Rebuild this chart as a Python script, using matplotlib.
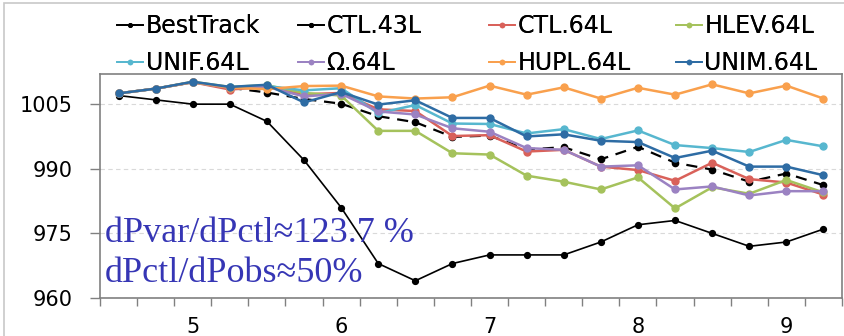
import numpy as np
import matplotlib
matplotlib.use('Agg')
import matplotlib.pyplot as plt
from matplotlib.patches import Rectangle

# 6-hourly points, day labels every 4th point
day_labels = ['5', '6', '7', '8', '9']
day_pos = [2, 6, 10, 14, 18]

best = [1007, 1006, 1005, 1005, 1001, 992, 981, 968, 964, 968,
        970, 970, 970, 973, 977, 978, 975, 972, 973, 976]
ctl43 = [1007.5, 1008.6, 1010.1, 1008.8, 1007.7, 1006.2, 1005.1, 1002.2, 1000.8, 997.4,
         997.7, 994.5, 995.0, 992.2, 995.1, 991.4, 989.8, 987.0, 988.9, 986.2]
ctl64 = [1007.5, 1008.6, 1010.1, 1008.4, 1009.0, 1007.3, 1007.6, 1003.8, 1003.4, 997.6,
         997.8, 994.0, 994.4, 990.5, 989.7, 987.2, 991.4, 987.6, 986.8, 984.0]
hlev = [1007.5, 1008.6, 1010.2, 1009.0, 1009.4, 1007.6, 1007.0, 998.8, 998.8, 993.6,
        993.3, 988.4, 987.0, 985.2, 988.0, 980.8, 985.7, 984.2, 987.4, 984.5]
unif = [1007.5, 1008.6, 1010.1, 1008.9, 1009.2, 1008.2, 1008.7, 1002.9, 1004.8, 1000.5,
        1000.4, 998.2, 999.2, 996.9, 998.9, 995.5, 994.8, 993.9, 996.7, 995.2]
omega = [1007.5, 1008.6, 1010.1, 1008.8, 1009.0, 1006.8, 1007.4, 1003.3, 1002.6, 999.4,
         998.6, 994.8, 994.4, 990.5, 990.8, 985.2, 985.9, 983.8, 984.8, 984.8]
hupl = [1007.5, 1008.6, 1010.1, 1008.8, 1008.5, 1009.2, 1009.3, 1006.8, 1006.3, 1006.6,
        1009.3, 1007.2, 1008.9, 1006.3, 1008.8, 1007.2, 1009.6, 1007.5, 1009.3, 1006.3]
unim = [1007.5, 1008.6, 1010.2, 1009.0, 1009.5, 1005.4, 1007.8, 1004.9, 1005.9, 1001.8,
        1001.8, 997.5, 998.0, 996.5, 996.2, 992.5, 994.2, 990.5, 990.5, 988.5]

names = ['BestTrack', 'CTL.43L', 'CTL.64L', 'HLEV.64L',
         'UNIF.64L', u'Ω.64L', 'HUPL.64L', 'UNIM.64L']
series = [best, ctl43, ctl64, hlev, unif, omega, hupl, unim]
colors = ['black', 'black', '#D9615A', '#A5C25C', '#57B7CF', '#9B82C2', '#F9A04D', '#2E6CA4']

x = np.arange(len(best))

fig = plt.figure(figsize=(8.45, 3.36), dpi=100)
ax = fig.add_axes([100/845, 38/336, 742/845, 224/336])

handles = []
for name, y, c in zip(names, series, colors):
    if name == 'BestTrack':
        h, = ax.plot(x, y, color=c, lw=1.2, marker='o', ms=4.2, label=name)
    elif name == 'CTL.43L':
        h, = ax.plot(x, y, color=c, lw=1.6, ls=(0, (5, 3.5)), marker='o', ms=4.5, label=name)
    else:
        h, = ax.plot(x, y, color=c, lw=1.8, marker='o', ms=5, label=name)
    handles.append(h)

ax.set_xlim(-0.5, len(best) - 0.5)
ax.set_ylim(960, 1012)
ax.set_yticks([960, 975, 990, 1005])
ax.set_xticks(np.arange(-0.5, len(best)), labels=[''] * (len(best) + 1))
ax.set_xticks(day_pos, labels=day_labels, minor=True)
ax.tick_params(axis='x', which='major', length=6, color='#808080', width=1)
ax.tick_params(axis='x', which='minor', length=0, pad=14, labelsize=15)
ax.tick_params(axis='y', length=7, color='#808080', width=1, pad=13, labelsize=15)
ax.grid(axis='y', ls=(0, (4, 3)), color='#D9D9D9', lw=0.8)
ax.set_axisbelow(True)
for s in ax.spines.values():
    s.set_color('#808080')
    s.set_linewidth(1.2)

ax.text(0.007, 0.25, u'dPvar/dPctl≈123.7 %', transform=ax.transAxes,
        family='Liberation Serif', fontsize=26, color='#3636B5', va='baseline')
ax.text(0.007, 0.071, u'dPctl/dPobs≈50%', transform=ax.transAxes,
        family='Liberation Serif', fontsize=26, color='#3636B5', va='baseline')

# legend: 4 columns of 2 rows, laid out like the original
col_x = [103/845, 284/845, 475/845, 662/845]
for k in range(4):
    hs = [handles[k], handles[k + 4]]
    leg = fig.legend(hs, [h.get_label() for h in hs], loc='upper left',
                     bbox_to_anchor=(col_x[k], 1.0), frameon=False, fontsize=17,
                     handlelength=1.1, handletextpad=0.1, labelspacing=0.55,
                     borderpad=0.1, markerscale=0.6)
    for ln in leg.get_lines():
        ln.set_linewidth(1.3)
        ln.set_linestyle('-')
    fig.add_artist(leg)

fig.patches.append(Rectangle((4/845, -0.1), 1.2, 1.1 - 3/336, transform=fig.transFigure,
                             fill=False, edgecolor='#C8C8C8', lw=1.2))

fig.savefig('out.png', dpi=100)
